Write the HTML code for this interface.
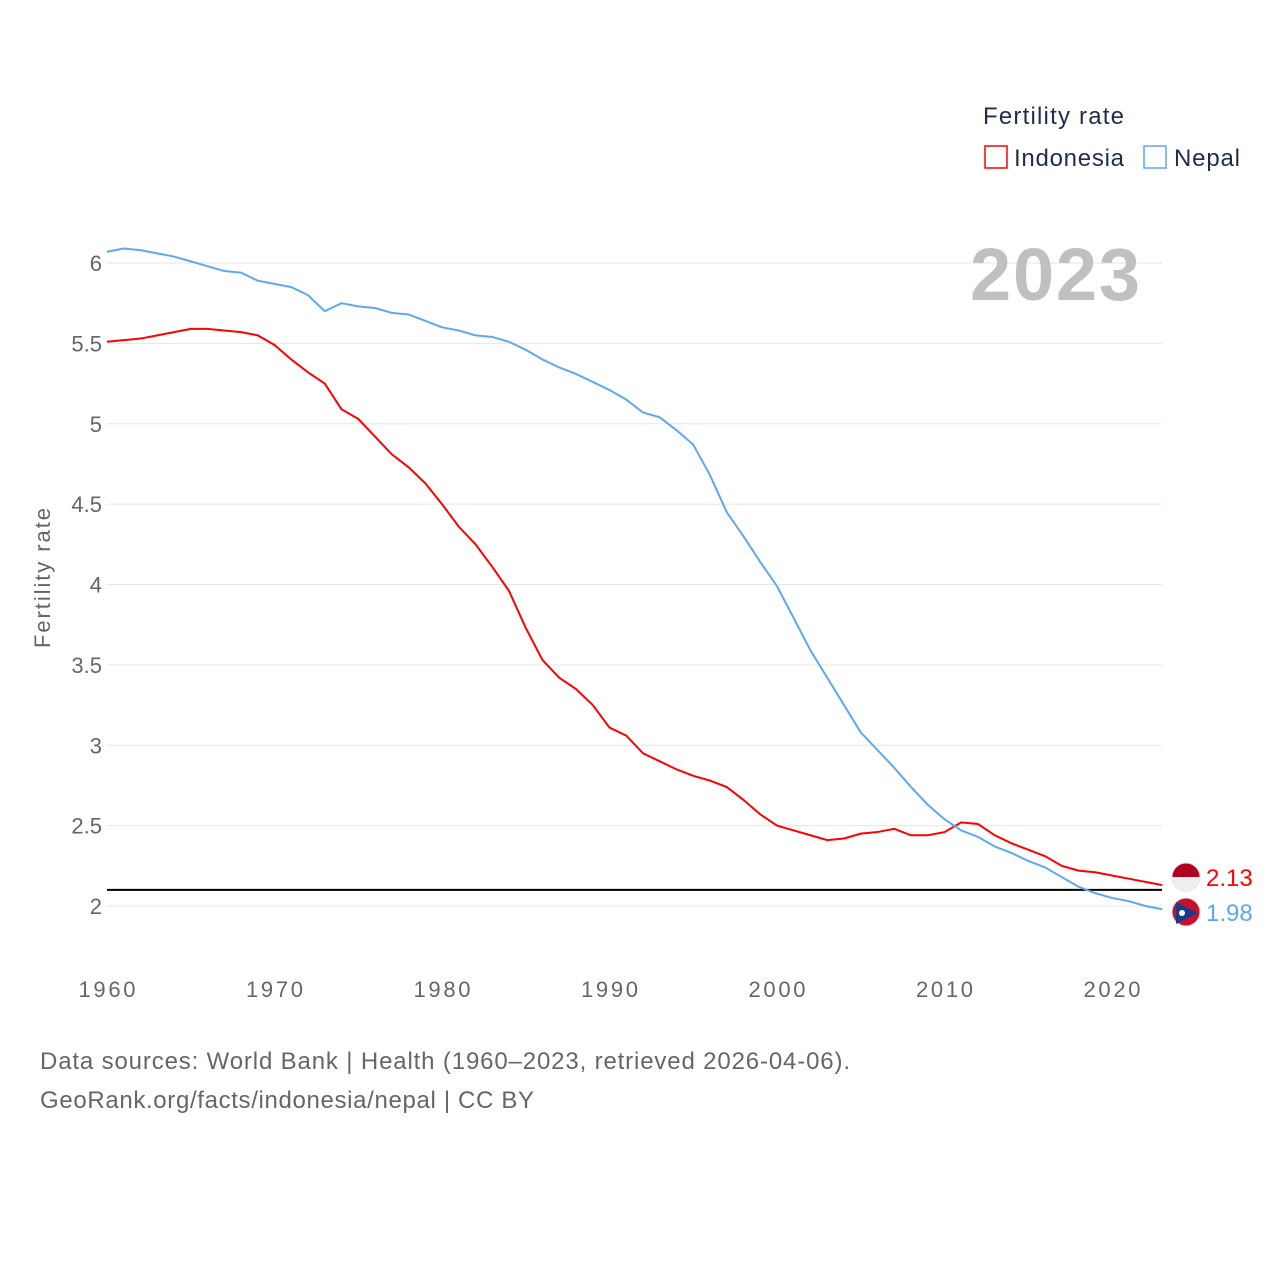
<!DOCTYPE html>
<html><head><meta charset="utf-8"><style>
body{margin:0;background:#fff;width:1280px;height:1280px;overflow:hidden;font-family:"Liberation Sans",sans-serif}
</style></head><body>
<svg id="chart" width="1280" height="1280" xmlns="http://www.w3.org/2000/svg">
<g id="grid"></g>
<g id="yt" font-size="22" fill="#666" text-anchor="end"></g>
<g id="xt" font-size="22" fill="#666" text-anchor="middle"></g>
<text transform="translate(50,578) rotate(-90)" font-size="22" fill="#666" text-anchor="middle" textLength="140">Fertility rate</text>
<text x="1140" y="300" font-size="74" font-weight="bold" fill="#c0c0c0" text-anchor="end" textLength="170">2023</text>
<g>
<text x="983" y="124" font-size="24" fill="#1f2d4a" textLength="141">Fertility rate</text>
<rect x="985" y="146" width="22" height="22" fill="none" stroke="#f00" stroke-width="1.5"/>
<text x="1014" y="166" font-size="24" fill="#1f2d4a" textLength="110">Indonesia</text>
<rect x="1144" y="146" width="22" height="22" fill="none" stroke="#5ea8f0" stroke-width="1.5"/>
<text x="1174" y="166" font-size="24" fill="#1f2d4a" textLength="66">Nepal</text>
</g>
<g id="series"></g>
<g id="ends"></g>
<text x="40" y="1069" font-size="24" fill="#666" textLength="810">Data sources: World Bank | Health (1960–2023, retrieved 2026-04-06).</text>
<text x="40" y="1108" font-size="24" fill="#666" textLength="494">GeoRank.org/facts/indonesia/nepal | CC BY</text>
</svg>
<script>
const years=[];for(let y=1960;y<=2023;y++)years.push(y);
const indonesia=[5.51,5.52,5.53,5.55,5.57,5.59,5.59,5.58,5.57,5.55,5.49,5.40,5.32,5.25,5.09,5.03,4.92,4.81,4.73,4.63,4.50,4.36,4.25,4.11,3.96,3.73,3.53,3.42,3.35,3.25,3.11,3.06,2.95,2.90,2.85,2.81,2.78,2.74,2.66,2.57,2.50,2.47,2.44,2.41,2.42,2.45,2.46,2.48,2.44,2.44,2.46,2.52,2.51,2.44,2.39,2.35,2.31,2.25,2.22,2.21,2.19,2.17,2.15,2.13];
const nepal=[6.07,6.09,6.08,6.06,6.04,6.01,5.98,5.95,5.94,5.89,5.87,5.85,5.80,5.70,5.75,5.73,5.72,5.69,5.68,5.64,5.60,5.58,5.55,5.54,5.51,5.46,5.40,5.35,5.31,5.26,5.21,5.15,5.07,5.04,4.96,4.87,4.68,4.45,4.30,4.14,3.99,3.79,3.59,3.42,3.25,3.08,2.97,2.86,2.74,2.63,2.54,2.47,2.43,2.37,2.33,2.28,2.24,2.18,2.12,2.08,2.05,2.03,2.00,1.98];
const yTicks=[2,2.5,3,3.5,4,4.5,5,5.5,6];
const xTicks=[1960,1970,1980,1990,2000,2010,2020];
const refLine=2.1;
const NS="http://www.w3.org/2000/svg";
const X=y=>107+(y-1960)*16.75, Y=v=>906-(v-2)*160.75;
function mk(t,a,p){const e=document.createElementNS(NS,t);for(const k in a)e.setAttribute(k,a[k]);p.appendChild(e);return e;}
const grid=document.getElementById('grid'),yt=document.getElementById('yt'),xt=document.getElementById('xt');
yTicks.forEach(v=>{const l=mk('line',{x1:107,x2:1162,y1:Y(v),y2:Y(v),stroke:'#e6e6e6'},grid);


const t=mk('text',{x:102,y:Y(v)+8},yt);t.textContent=v;

});
xTicks.forEach(v=>{const t=mk('text',{x:X(v),y:997,textLength:57},xt);t.textContent=v;

});
const s=document.getElementById('series');
const rl=mk('line',{x1:107,x2:1162,y1:Y(refLine),y2:Y(refLine),stroke:'#000','stroke-width':2},s);


[[indonesia,'#f00','indonesia'],[nepal,'#5ea8f0','nepal']].forEach(([d,c,n])=>{
const p=mk('path',{d:d.map((v,i)=>(i?'L':'M')+X(years[i])+','+Y(v)).join(''),fill:'none',stroke:c,'stroke-width':2},s);


const last=d[d.length-1];
const e=document.getElementById('ends');
const ly=n==='indonesia'?878:913;
const f=mk('circle',{cx:1186,cy:ly-1,r:14,fill:n==='indonesia'?'#b00020':'#c8102e',stroke:'#ddd'},e);


if(n==='indonesia'){mk('path',{d:'M1172,877 A14,14 0 0 0 1200,877 Z',fill:'#eee'},e);}
else{mk('path',{d:'M1176,902 L1198,913 L1176,924 Z',fill:'#1a3a8a'},e);mk('circle',{cx:1182,cy:913,r:3,fill:'#fff'},e);}
const t=mk('text',{x:1206,y:ly+8,fill:c,'font-size':24},e);t.textContent=last.toFixed(2);


});
</script>
</body></html>
